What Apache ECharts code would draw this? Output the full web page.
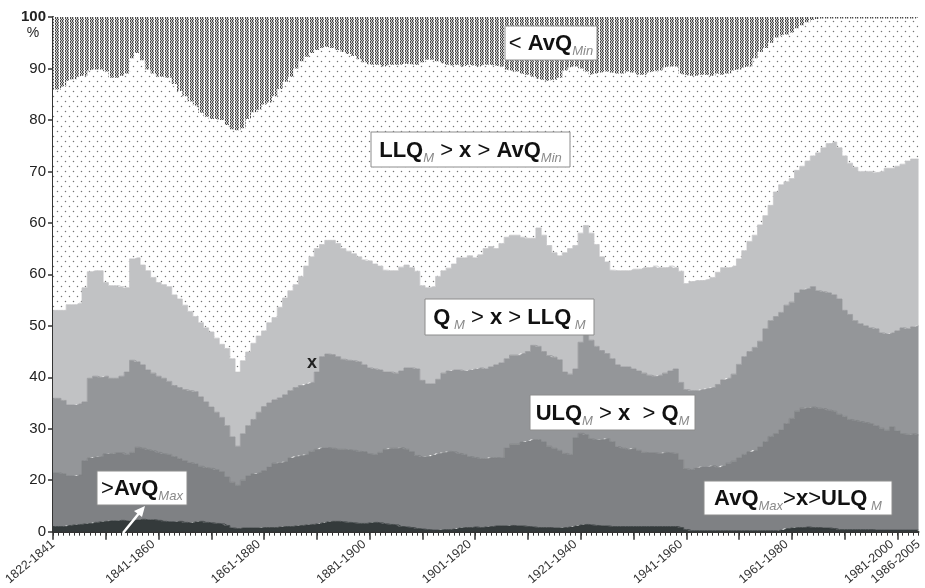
<!DOCTYPE html>
<html><head><meta charset="utf-8">
<script src="https://cdn.jsdelivr.net/npm/echarts@6/dist/echarts.min.js"></script>
<style>html,body{margin:0;padding:0;background:#fff}#c{width:925px;height:588px}</style>
</head><body><div id="c"></div>
<script>
// 20-year moving windows
const categories = [];
for (let y = 1822; y <= 1986; y++) categories.push(y + '-' + (y + 19));
const xTickLabels = ['1822-1841','1841-1860','1861-1880','1881-1900','1901-1920','1921-1940','1941-1960','1961-1980','1981-2000','1986-2005'];
const yTickLabels = ['0','20','30','40','50','60','60','70','80','90','100'];
const seriesNames = ['>AvQ Max','AvQ Max > x > ULQ M','ULQ M > x > Q M','Q M > x > LLQ M','LLQ M > x > AvQ Min','< AvQ Min'];

// cumulative upper edges of each class (percent)
const capMax = [1.0,1.0,1.0,1.2,1.3,1.4,1.5,1.6,1.8,1.9, 2.0,2.1,2.1,2.2,2.1,2.2,2.3,2.4,2.3,2.3,
 2.2,2.0,1.9,1.9,2.0,1.8,1.7,1.9,2.0,1.8, 1.7,1.6,1.5,1.2,0.7,0.6,0.7,0.7,0.7,0.7,
 0.8,0.8,0.8,0.9,1.0,1.0,1.1,1.2,1.3,1.4, 1.5,1.7,1.9,2.0,2.0,1.9,1.8,1.7,1.6,1.6,
 1.7,1.8,1.7,1.5,1.4,1.3,1.0,0.9,0.8,0.6, 0.5,0.4,0.3,0.3,0.4,0.4,0.5,0.7,0.8,0.8,
 0.9,0.8,0.9,1.0,1.1,1.1,1.1,1.2,1.1,1.1, 1.0,0.9,0.8,0.8,0.8,0.7,0.7,0.8,0.9,1.1,
 1.3,1.4,1.3,1.2,1.1,1.1,1.0,1.0,1.0,1.0, 1.0,1.0,1.0,1.0,1.0,1.0,1.0,1.0,1.0,0.8,
 0.4,0.2,0.2,0.2,0.2,0.2,0.2,0.2,0.2,0.2, 0.2,0.2,0.2,0.2,0.2,0.2,0.2,0.2,0.3,0.6,
 0.7,0.8,0.8,0.9,0.8,0.8,0.7,0.7,0.6,0.4, 0.4,0.4,0.4,0.4,0.4,0.4,0.3,0.3,0.3,0.3,
 0.3,0.3,0.3,0.3,0.3];
const capULQ = [11.4,11.4,11.2,10.8,10.8,11.0,13.8,14.3,14.5,14.6, 15.1,15.2,15.3,15.3,15.0,15.4,16.4,16.2,15.9,15.7,
 15.4,15.1,15.0,14.6,14.2,13.8,13.4,13.2,12.7,12.4, 12.3,12.0,11.6,10.6,9.6,9.0,10.0,10.8,11.2,11.4,
 11.8,12.6,13.3,13.4,13.6,14.3,14.6,14.8,15.0,15.6, 16.0,16.3,16.3,16.2,16.0,16.0,15.9,15.8,15.6,15.5,
 15.1,15.0,15.4,16.0,16.2,16.2,16.3,16.0,15.5,14.8, 14.5,14.6,14.9,15.2,15.4,15.6,15.5,15.2,15.0,14.6,
 14.4,14.2,14.2,14.4,14.4,14.3,16.3,17.0,17.0,17.4, 17.6,17.9,17.9,17.5,16.6,16.2,15.8,15.2,15.0,18.2,
 19.1,18.8,18.0,17.8,17.9,18.1,17.5,16.5,16.2,16.0, 16.2,15.8,15.4,15.3,15.3,15.2,15.4,15.3,15.2,14.0,
 12.2,12.0,12.4,12.6,12.6,12.8,12.5,12.8,13.3,13.7, 14.3,15.0,15.5,15.8,16.5,17.5,18.5,19.0,19.8,21.0,
 22.0,23.4,24.0,24.1,24.2,24.0,23.9,23.6,23.4,22.8, 22.4,21.8,21.6,21.4,21.2,21.0,20.6,20.1,19.7,20.4,
 19.6,19.0,18.9,19.0,18.8];
const capQ = [25.9,25.9,25.5,24.6,24.6,24.8,25.2,29.8,30.2,30.0, 30.2,29.8,29.8,30.2,31.0,33.3,33.0,32.4,31.4,30.8,
 30.2,29.8,29.2,28.4,28.0,27.6,27.4,27.2,26.2,25.2, 24.2,23.2,22.2,20.6,18.4,16.6,19.0,20.6,21.8,23.2,
 24.3,25.0,25.6,26.0,26.6,27.4,28.0,28.4,28.7,29.0, 31.0,34.0,34.5,34.4,34.0,33.5,33.3,33.2,33.0,32.4,
 31.8,31.6,31.4,31.0,31.0,30.8,31.2,31.8,31.8,31.6, 29.4,28.7,28.7,29.6,30.8,31.2,31.4,31.4,31.2,31.4,
 31.6,31.8,31.6,32.0,32.4,32.8,33.6,34.3,34.3,34.6, 35.0,36.2,36.0,35.0,34.2,33.9,33.4,31.0,30.6,31.6,
 36.8,38.4,37.2,36.0,35.2,34.6,33.6,32.4,32.0,32.0, 31.6,31.2,30.8,30.4,30.2,30.4,30.8,31.2,31.6,29.0,
 27.6,27.4,27.4,27.6,27.8,28.0,28.6,29.5,29.8,30.6, 32.5,34.0,35.0,35.8,37.0,39.4,41.0,41.8,42.6,44.0,
 44.6,46.4,47.0,47.2,47.6,46.8,46.6,46.4,46.0,45.2, 43.0,42.2,41.0,40.4,40.0,39.6,39.4,38.6,38.4,38.6,
 39.0,39.6,39.4,39.8,40.0];
const capLLQ = [43.0,43.0,43.0,44.1,44.1,44.4,47.4,50.5,50.7,50.7, 48.4,47.8,47.8,47.6,47.4,53.0,53.2,51.8,50.7,49.4,
 48.4,48.0,47.6,46.0,45.2,44.0,42.8,41.8,40.6,39.6, 38.8,37.6,36.4,35.6,33.6,31.0,33.2,34.9,36.6,38.0,
 39.0,40.6,41.6,43.6,45.4,46.8,48.0,49.6,51.6,53.4, 55.0,55.8,56.6,56.6,56.0,55.0,54.5,54.0,53.4,52.8,
 52.6,52.0,51.6,50.8,50.7,50.7,51.4,51.8,51.3,50.6, 47.8,47.4,47.6,49.6,50.7,51.2,52.0,53.2,53.2,53.6,
 53.2,53.8,55.0,55.4,55.0,56.0,57.2,57.6,57.6,57.2, 57.0,57.0,59.0,57.6,55.6,54.2,53.6,54.2,55.0,55.6,
 58.0,59.5,58.0,55.8,53.4,52.4,50.8,50.7,50.7,50.7, 51.0,51.0,51.3,51.3,51.6,51.3,51.3,51.6,51.3,50.6,
 48.2,48.6,48.8,48.8,49.0,49.4,50.4,51.3,51.3,51.6, 53.0,54.6,56.4,57.6,59.6,61.4,63.4,66.0,67.4,68.0,
 68.6,70.2,71.0,72.0,73.0,73.6,74.6,75.4,75.7,74.6, 73.0,71.6,70.8,70.0,70.0,70.0,69.8,70.0,70.6,70.6,
 71.0,71.4,72.0,72.4,72.4];
const capMin = [85.9,85.9,86.5,87.6,87.9,88.4,88.6,89.6,89.8,89.8, 89.4,88.2,88.2,88.6,89.0,92.0,93.0,91.6,89.8,89.0,
 88.4,88.4,88.2,87.0,85.6,84.6,83.6,82.8,81.4,80.6, 80.2,80.2,80.0,79.0,78.2,78.0,78.4,80.2,81.5,82.0,
 83.0,83.4,84.6,86.0,87.4,88.4,90.0,91.4,92.3,93.0, 93.6,94.0,94.2,94.0,93.6,93.2,92.8,92.4,91.8,91.2,
 90.8,90.7,90.7,90.4,90.7,90.7,90.7,90.9,90.8,90.7, 91.2,91.7,91.7,91.4,91.0,90.7,90.6,90.7,90.4,90.7,
 90.6,90.4,90.7,90.7,90.6,90.4,89.8,89.6,89.4,89.0, 88.8,88.4,88.0,87.8,87.6,87.8,88.2,89.6,90.2,90.4,
 90.0,89.4,88.8,89.0,89.2,89.4,89.2,89.0,89.0,89.4, 89.2,88.8,88.8,89.2,89.4,89.6,90.2,90.4,90.4,89.0,
 88.8,88.6,88.6,88.8,88.8,88.6,89.0,88.8,89.0,89.6, 89.8,90.2,90.4,92.0,93.2,94.0,95.0,96.0,96.4,96.6,
 97.0,97.8,98.4,99.0,99.4,99.6,99.7,99.7,99.7,99.7, 99.7,99.7,99.7,99.7,99.7,99.7,99.7,99.7,99.7,99.7,
 99.7,99.7,99.7,99.7,99.7];
const capTotal = 100;

// fill patterns
function sparsePattern() {
  const c = document.createElement('canvas'); c.width = 8; c.height = 10;
  const g = c.getContext('2d');
  g.fillStyle = '#ffffff'; g.fillRect(0, 0, 8, 10);
  g.fillStyle = '#747474';
  g.beginPath(); g.arc(1.5, 1.5, 0.72, 0, Math.PI * 2); g.fill();
  g.beginPath(); g.arc(5.5, 6.5, 0.72, 0, Math.PI * 2); g.fill();
  return { image: c, repeat: 'repeat' };
}
function densePattern() {
  const c = document.createElement('canvas'); c.width = 5; c.height = 3;
  const g = c.getContext('2d');
  g.fillStyle = '#ffffff'; g.fillRect(0, 0, 5, 3);
  g.fillStyle = '#cfcfcf'; g.fillRect(0, 0, 4, 3);
  g.fillStyle = '#4a4a4a';
  [[0,0],[2,0],[1,1],[3,1],[0,2],[2,2]].forEach(p => g.fillRect(p[0], p[1], 1, 1));
  return { image: c, repeat: 'repeat' };
}

const caps = [capMax, capULQ, capQ, capLLQ, capMin];
const layers = [];
for (let k = 0; k <= caps.length; k++) {
  const upper = k < caps.length ? caps[k] : null;
  const lower = k > 0 ? caps[k - 1] : null;
  layers.push(categories.map((_, i) => {
    const u = upper ? upper[i] : capTotal;
    const l = lower ? lower[i] : 0;
    return +(u - l).toFixed(2);
  }));
}
const fills = ['#343a3b', '#7f8184', '#949699', '#c1c2c4', sparsePattern(), densePattern()];
const solid = [true, true, true, true, false, false];

const series = layers.map((d, k) => ({
  name: seriesNames[k], type: 'line', stack: 'all', step: 'middle', data: d,
  symbol: 'none', showSymbol: false,
  lineStyle: solid[k] ? { color: fills[k], width: 0.8 } : { width: 0, opacity: 0 },
  areaStyle: { color: fills[k], opacity: 1 },
  emphasis: { disabled: true }
}));

const chart = echarts.init(document.getElementById('c'), null, { renderer: 'canvas' });
const FONT = 'Liberation Sans, Arial, sans-serif';
const rich = {
  b: { fontFamily: FONT, fontWeight: 'bold', fontSize: 22, fill: '#111', lineHeight: 28 },
  n: { fontFamily: FONT, fontWeight: 'normal', fontSize: 22, fill: '#111', lineHeight: 28 },
  s: { fontFamily: FONT, fontStyle: 'italic', fontSize: 13, fill: '#8a8a8a', lineHeight: 28, verticalAlign: 'bottom' }
};
function box(x, y, w, h, text) {
  return [
    { type: 'rect', z: 100, shape: { x: x, y: y, width: w, height: h }, style: { fill: '#fff', stroke: '#8c8c8c', lineWidth: 1 } },
    { type: 'text', z: 101, style: { x: x + w / 2, y: y + h / 2 + 1, text: text, rich: rich, align: 'center', verticalAlign: 'middle' } }
  ];
}

chart.setOption({
  animation: false,
  backgroundColor: '#fff',
  grid: { left: 53, right: 0, top: 17, bottom: 51 },
  xAxis: [
    { type: 'category', data: categories, boundaryGap: false,
      axisLine: { lineStyle: { color: '#333', width: 2 } },
      axisTick: { interval: 0, length: 4, lineStyle: { color: '#333', width: 1 } },
      axisLabel: { interval: (i, v) => xTickLabels.includes(v), rotate: 40, fontSize: 12.5, color: '#333', margin: 11, fontFamily: FONT } },
    { type: 'category', data: categories, boundaryGap: false, position: 'bottom',
      axisLine: { show: false },
      axisTick: { interval: (i) => i % 10 === 0, length: 8, lineStyle: { color: '#333', width: 1.5 } },
      axisLabel: { show: false } }
  ],
  yAxis: { type: 'value', min: 0, max: 100, interval: 10,
    axisLine: { show: true, lineStyle: { color: '#333', width: 2 } },
    axisTick: { show: true, length: 5, lineStyle: { color: '#333', width: 1.5 } },
    splitLine: { show: false },
    axisLabel: { fontFamily: FONT, fontSize: 15, color: '#222', margin: 7,
      formatter: (v) => v === 100 ? '{t|100}' : yTickLabels[Math.round(v / 10)],
      rich: { t: { fontFamily: FONT, fontWeight: 'bold', fontSize: 15, color: '#222' } } } },
  series: series,
  graphic: [].concat(
    box(505, 26, 92, 34, '{n|< }{b|AvQ}{s|Min}'),
    box(371, 132, 199, 35, '{b|LLQ}{s|M}{n| > }{b|x}{n| > }{b|AvQ}{s|Min}'),
    box(425, 299, 169, 36, '{b|Q}{s| M}{n| > }{b|x}{n| > }{b|LLQ}{s| M}'),
    box(530, 395, 165, 35, '{b|ULQ}{s|M}{n| > }{b|x}{n|  > }{b|Q}{s|M}'),
    box(704, 481, 188, 34, '{b|AvQ}{s|Max}{n|>}{b|x}{n|>}{b|ULQ}{s| M}'),
    box(97, 471, 90, 34, '{n|>}{b|AvQ}{s|Max}'),
    [
      { type: 'text', z: 100, style: { x: 312, y: 363, text: 'x', font: 'bold 18px ' + FONT, fill: '#222', align: 'center', verticalAlign: 'middle' } },
      { type: 'text', z: 100, style: { x: 33, y: 33, text: '%', font: '14px ' + FONT, fill: '#222', align: 'center', verticalAlign: 'middle' } },
      { type: 'line', z: 100, shape: { x1: 123, y1: 533, x2: 140, y2: 512 }, style: { stroke: '#fff', lineWidth: 2.5 } },
      { type: 'polygon', z: 100, shape: { points: [[145, 506], [134, 511], [142, 517]] }, style: { fill: '#fff' } }
    ]
  )
});
</script>
</body></html>
